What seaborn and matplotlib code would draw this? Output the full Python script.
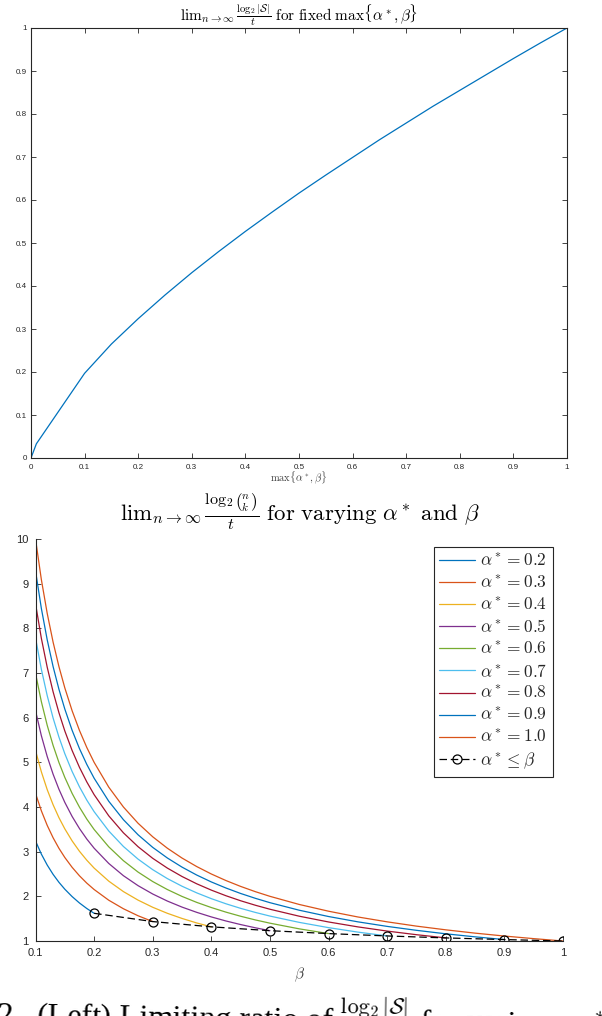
import numpy as np
import pandas as pd
import matplotlib
matplotlib.use("Agg")
import matplotlib.pyplot as plt
import seaborn as sns
from matplotlib.ticker import FixedLocator, FuncFormatter

# ---------------- data ----------------
# top panel: limit of log2|S|/t versus max{alpha*, beta}
max_ab = [0.0, 0.01, 0.1, 0.15, 0.2, 0.25, 0.3, 0.35, 0.4, 0.45, 0.5,
          0.55, 0.6, 0.65, 0.7, 0.75, 0.8, 0.85, 0.9, 0.95, 1.0]
log_s_ratio = [0.0, 0.033, 0.197, 0.265, 0.324, 0.379, 0.431, 0.480, 0.527,
               0.572, 0.616, 0.658, 0.699, 0.740, 0.779, 0.818, 0.855, 0.892,
               0.929, 0.965, 1.0]

# bottom panel: limit of log2 C(n,k)/t versus beta for several alpha*
beta_grid = [0.1, 0.11, 0.12, 0.13, 0.14, 0.15, 0.1625, 0.175, 0.1875, 0.2,
             0.225, 0.25, 0.275, 0.3, 0.325, 0.35, 0.375, 0.4, 0.425, 0.45,
             0.475, 0.5, 0.55, 0.6, 0.65, 0.7, 0.75, 0.8, 0.85, 0.9, 0.95, 1.0]
alpha_labels = ["0.2", "0.3", "0.4", "0.5", "0.6", "0.7", "0.8", "0.9", "1.0"]
ratio_a02 = [3.24, 2.945, 2.70, 2.492, 2.314, 2.16, 1.994, 1.851, 1.728, 1.62]
ratio_a03 = [4.305, 3.914, 3.588, 3.312, 3.075, 2.870, 2.649, 2.460, 2.296,
             2.153, 1.913, 1.722, 1.565, 1.435]
ratio_a04 = [5.266, 4.787, 4.388, 4.051, 3.761, 3.511, 3.241, 3.009, 2.809,
             2.633, 2.340, 2.106, 1.915, 1.755, 1.620, 1.505, 1.404, 1.317]
ratio_a05 = [6.156, 5.596, 5.130, 4.735, 4.397, 4.104, 3.788, 3.518, 3.283,
             3.078, 2.736, 2.462, 2.239, 2.052, 1.894, 1.759, 1.642, 1.539,
             1.448, 1.368, 1.296, 1.231]
ratio_a06 = [6.994, 6.358, 5.828, 5.380, 4.996, 4.663, 4.304, 3.997, 3.730,
             3.497, 3.108, 2.798, 2.543, 2.331, 2.152, 1.998, 1.865, 1.749,
             1.646, 1.554, 1.472, 1.399, 1.272, 1.166]
ratio_a07 = [7.791, 7.083, 6.493, 5.993, 5.565, 5.194, 4.794, 4.452, 4.155,
             3.896, 3.463, 3.116, 2.833, 2.597, 2.397, 2.226, 2.078, 1.948,
             1.833, 1.731, 1.640, 1.558, 1.417, 1.299, 1.199, 1.113]
ratio_a08 = [8.554, 7.776, 7.128, 6.580, 6.110, 5.703, 5.264, 4.888, 4.562,
             4.277, 3.802, 3.422, 3.111, 2.851, 2.632, 2.444, 2.281, 2.139,
             2.013, 1.901, 1.801, 1.711, 1.555, 1.426, 1.316, 1.222, 1.141,
             1.069]
ratio_a09 = [9.289, 8.445, 7.741, 7.145, 6.635, 6.193, 5.716, 5.308, 4.954,
             4.645, 4.128, 3.716, 3.378, 3.096, 2.858, 2.654, 2.477, 2.322,
             2.186, 2.064, 1.956, 1.858, 1.689, 1.548, 1.429, 1.327, 1.239,
             1.161, 1.093, 1.032]
ratio_a10 = [10.0, 9.091, 8.333, 7.692, 7.143, 6.667, 6.154, 5.714, 5.333,
             5.0, 4.444, 4.0, 3.636, 3.333, 3.077, 2.857, 2.667, 2.5, 2.353,
             2.222, 2.105, 2.0, 1.818, 1.667, 1.538, 1.429, 1.333, 1.25,
             1.176, 1.111, 1.053, 1.0]
ratio_series = [ratio_a02, ratio_a03, ratio_a04, ratio_a05, ratio_a06,
                ratio_a07, ratio_a08, ratio_a09, ratio_a10]

# boundary alpha* <= beta (points at beta = alpha*)
boundary_beta = [0.2, 0.3, 0.4, 0.5, 0.6, 0.7, 0.8, 0.9, 1.0]
boundary_ratio = [1.62, 1.435, 1.317, 1.231, 1.166, 1.113, 1.069, 1.032, 1.0]

top_ticks = [0.0, 0.1, 0.2, 0.3, 0.4, 0.5, 0.6, 0.7, 0.8, 0.9, 1.0]
bottom_xticks = [0.1, 0.2, 0.3, 0.4, 0.5, 0.6, 0.7, 0.8, 0.9, 1.0]
bottom_yticks = [1, 2, 3, 4, 5, 6, 7, 8, 9, 10]

# ---------------- style ----------------
sns.set_theme(style="ticks")
plt.rcParams["font.family"] = ["Liberation Sans", "DejaVu Sans"]
plt.rcParams["mathtext.fontset"] = "cm"

matlab_colors = ["#0072BD", "#D95319", "#EDB120", "#7E2F8E", "#77AC30",
                 "#4DBEEE", "#A2142F", "#0072BD", "#D95319"]
axis_gray = "#262626"

W, H = 602, 1016
fig = plt.figure(figsize=(W / 100, H / 100), dpi=100)

def fmt(v, pos):
    return "%g" % round(v, 3)

# ---------------- top panel ----------------
ax1 = fig.add_axes([31 / W, 1 - 458 / H, 536 / W, 430 / H])
df_top = pd.DataFrame({"x": max_ab, "y": log_s_ratio})
sns.lineplot(data=df_top, x="x", y="y", ax=ax1, color="#0072BD",
             linewidth=0.9, estimator=None, sort=False)
ax1.set_xlim(0, 1)
ax1.set_ylim(0, 1)
ax1.xaxis.set_major_locator(FixedLocator(top_ticks))
ax1.yaxis.set_major_locator(FixedLocator(top_ticks))
ax1.xaxis.set_major_formatter(FuncFormatter(fmt))
ax1.yaxis.set_major_formatter(FuncFormatter(fmt))
ax1.set_xlabel("")
ax1.set_ylabel("")
ax1.tick_params(axis="both", which="major", direction="in", length=3.6,
                width=0.6, labelsize=5.8, colors=axis_gray,
                top=True, right=True)
ax1.tick_params(axis="x", pad=4)
ax1.tick_params(axis="y", pad=3)
for sp in ax1.spines.values():
    sp.set_visible(True)
    sp.set_color(axis_gray)
    sp.set_linewidth(0.8)

fig.text(299 / W, 1 - 16 / H,
         r"$\mathrm{lim}_{n\to\infty}\,\frac{\log_2|\mathcal{S}|}{t}\ \mathrm{for\ fixed}\ \max\{\alpha^*,\beta\}$",
         ha="center", va="center", fontsize=11, color="black")
fig.text(299 / W, 1 - 478 / H, r"$\max\{\alpha^*,\beta\}$",
         ha="center", va="center", fontsize=7.5, color="#404040")

# ---------------- bottom panel ----------------
ax2 = fig.add_axes([35.5 / W, 1 - 941 / H, 527.5 / W, 402 / H])
for lab, vals, col in zip(alpha_labels, ratio_series, matlab_colors):
    df = pd.DataFrame({"beta": beta_grid[:len(vals)], "ratio": vals})
    sns.lineplot(data=df, x="beta", y="ratio", ax=ax2, color=col,
                 linewidth=0.9, estimator=None, sort=False,
                 label=r"$\alpha^* = %s$" % lab)
df_b = pd.DataFrame({"beta": boundary_beta, "ratio": boundary_ratio})
sns.lineplot(data=df_b, x="beta", y="ratio", ax=ax2, color="black",
             linewidth=0.9, estimator=None, sort=False, linestyle="--",
             marker="o", markersize=6.5, markerfacecolor="none",
             markeredgecolor="black", markeredgewidth=0.9,
             label=r"$\alpha^* \leq \beta$")
ax2.lines[-1].set_dashes([6, 3])
ax2.set_xlim(0.1, 1)
ax2.set_ylim(1, 10)
ax2.xaxis.set_major_locator(FixedLocator(bottom_xticks))
ax2.yaxis.set_major_locator(FixedLocator(bottom_yticks))
ax2.xaxis.set_major_formatter(FuncFormatter(fmt))
ax2.yaxis.set_major_formatter(FuncFormatter(fmt))
ax2.set_xlabel("")
ax2.set_ylabel("")
ax2.tick_params(axis="both", which="major", direction="in", length=3.6,
                width=0.6, labelsize=8, colors=axis_gray)
ax2.tick_params(axis="x", pad=5)
ax2.tick_params(axis="y", pad=5)
ax2.spines["top"].set_visible(False)
ax2.spines["right"].set_visible(False)
for s in ("left", "bottom"):
    ax2.spines[s].set_color(axis_gray)
    ax2.spines[s].set_linewidth(0.8)

leg = ax2.legend(loc="upper right", bbox_to_anchor=(1 - 10 / 527.5, 1 - 8 / 402),
                 borderaxespad=0, fontsize=12.5, frameon=True, fancybox=False,
                 edgecolor=axis_gray, framealpha=1, handlelength=2.1,
                 handletextpad=0.3, labelspacing=0.29, borderpad=0.3)
leg.get_frame().set_linewidth(0.8)

fig.text(300 / W, 1 - 512 / H,
         r"$\mathrm{lim}_{n\to\infty}\,\frac{\log_2\binom{n}{k}}{t}\ \mathrm{for\ varying}\ \alpha^*\ \mathrm{and}\ \beta$",
         ha="center", va="center", fontsize=16.5, color="black")
fig.text(299 / W, 1 - 975 / H, r"$\beta$", ha="center", va="center",
         fontsize=11, color="#404040")

# cut-off caption at the very bottom (only its upper part is visible)
fig.text(-4 / W, 1 - 1024 / H,
         r"2.  (Left) Limiting ratio of $\frac{\log_2|\mathcal{S}|}{t}$ for various $\alpha^*$ and $\beta$",
         ha="left", va="baseline", fontsize=23, color="black",
         family=["Liberation Serif", "DejaVu Serif"], rotation=-1.0,
         rotation_mode="anchor")

fig.savefig("out.png", dpi=100)
